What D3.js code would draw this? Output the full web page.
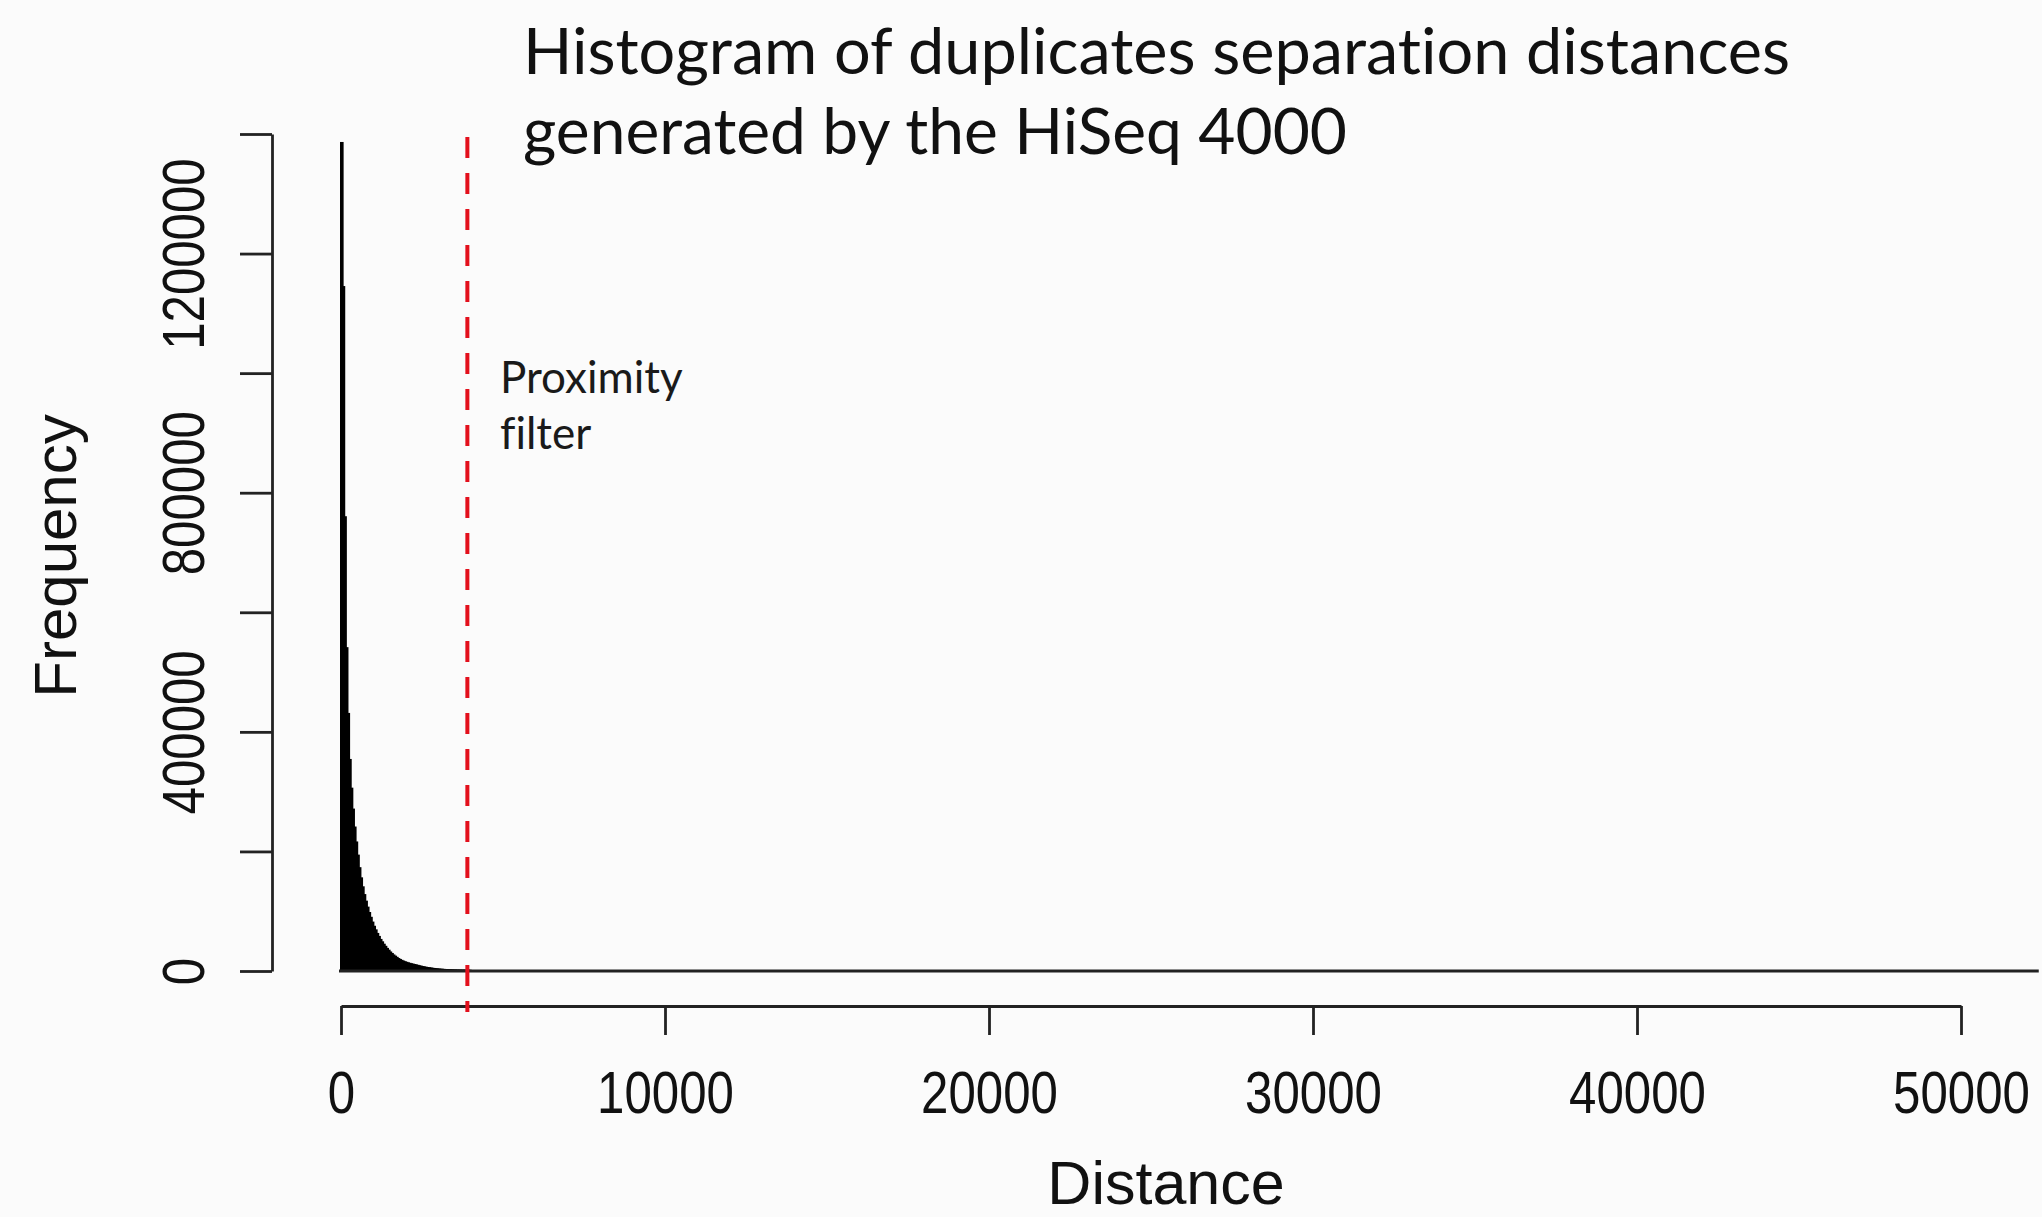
<!DOCTYPE html>
<html>
<head>
<meta charset="utf-8">
<script src="https://cdnjs.cloudflare.com/ajax/libs/d3/7.8.5/d3.min.js"></script>
<style>
  html, body { margin: 0; padding: 0; background: #fbfbfb; }
  svg { display: block; }
  text { font-variant-ligatures: none; }
</style>
</head>
<body>
<svg id="chart"></svg>
<script>
// histogram counts, bins of 50 starting at 0
var binWidth = 50;
var counts = [1385000, 1144000, 759000, 540000, 430000, 353000, 305000, 270000, 240000, 215000,
              193000, 172000, 155000, 140000, 127000, 116000, 106000, 97000, 89000, 81000,
              74000, 68000, 62000, 57000, 52000, 48000, 44000, 40500, 37000, 34000,
              31000, 28500, 26000, 24000, 22000, 20000, 18500, 17000, 15800, 14700,
              13700, 12800, 12000, 11300, 10600, 10000, 9300, 8600, 7900, 7200,
              6600, 6000, 5500, 5000, 4600, 4200, 3800, 3400, 3100, 2800,
              2500, 2300, 2100, 1900, 1700, 1550, 1400, 1300, 1200, 1100,
              1000, 900, 850, 800, 750, 700, 650, 600, 550, 500];
var maxDistance = 52400;   // last break of the histogram
var filterDistance = 3900; // proximity filter cut-off

var xTicks = [0, 10000, 20000, 30000, 40000, 50000];
var yTicks = [0, 200000, 400000, 600000, 800000, 1000000, 1200000, 1400000];
var yLabelTicks = [0, 400000, 800000, 1200000];

var titleLines = ["Histogram of duplicates separation distances", "generated by the HiSeq 4000"];
var noteLines = ["Proximity", "filter"];

var width = 2042, height = 1217;
var svg = d3.select("#chart").attr("width", width).attr("height", height);

var x = d3.scaleLinear().domain([0, 50000]).range([341, 1961]);
var y = d3.scaleLinear().domain([0, 1400000]).range([971, 134]);

var bins = counts.map(function(c, i) { return {x0: i * binWidth, x1: (i + 1) * binWidth, count: c}; });

// the tick digits are narrow: squeeze regular glyphs horizontally
var squeeze = 0.82;
var tickFont = "'Liberation Sans Narrow', 'Arial Narrow', 'Liberation Sans', sans-serif";

// bars
svg.append("g")
  .selectAll("rect")
  .data(bins)
  .enter().append("rect")
    .attr("x", function(d) { return x(d.x0); })
    .attr("width", function(d) { return x(d.x1) - x(d.x0); })
    .attr("y", function(d) { return y(d.count); })
    .attr("height", function(d) { return y(0) - y(d.count); })
    .attr("fill", "#000")
    .attr("stroke", "#000")
    .attr("stroke-width", 2);

// bottom edge of the (empty) bins out to the last break
svg.append("line")
    .attr("x1", x(0) - 2).attr("x2", x(maxDistance))
    .attr("y1", y(0)).attr("y2", y(0))
    .attr("stroke", "#222")
    .attr("stroke-width", 2.8);

// x axis
var xAxis = svg.append("g")
    .attr("transform", "translate(0,1006)")
    .call(d3.axisBottom(x).tickValues(xTicks).tickSize(29).tickSizeOuter(0).tickFormat(d3.format("d")));
xAxis.select(".domain").attr("stroke", "#222").attr("stroke-width", 2.8);
xAxis.selectAll(".tick line").attr("stroke", "#222").attr("stroke-width", 2.8);
xAxis.selectAll(".tick text")
    .attr("y", 0)
    .attr("dy", 0)
    .attr("transform", "translate(0,107) scale(" + squeeze + ",1)")
    .attr("fill", "#111")
    .style("font-family", tickFont)
    .style("font-size", "60px");

// y axis
var yAxis = svg.append("g")
    .attr("transform", "translate(272,0)")
    .call(d3.axisLeft(y).tickValues(yTicks).tickSize(32).tickSizeOuter(0)
      .tickFormat(function(d) { return yLabelTicks.indexOf(d) >= 0 ? d3.format("d")(d) : ""; }));
yAxis.select(".domain").attr("stroke", "#222").attr("stroke-width", 2.8);
yAxis.selectAll(".tick line").attr("stroke", "#222").attr("stroke-width", 2.8);
yAxis.selectAll(".tick text")
    .attr("x", 0).attr("y", 0).attr("dy", 0)
    .attr("transform", "translate(-68,0) rotate(-90) scale(" + squeeze + ",1)")
    .attr("text-anchor", "middle")
    .attr("fill", "#111")
    .style("font-family", tickFont)
    .style("font-size", "60px");

// proximity filter line
svg.append("line")
    .attr("x1", x(filterDistance)).attr("x2", x(filterDistance))
    .attr("y1", 137).attr("y2", 1012)
    .attr("stroke", "#e3101c")
    .attr("stroke-width", 4)
    .attr("stroke-dasharray", "21,15");

svg.append("g")
  .selectAll("text")
  .data(noteLines)
  .enter().append("text")
    .attr("x", 500)
    .attr("y", function(d, i) { return 393 + i * 56; })
    .text(function(d) { return d; })
    .attr("fill", "#1a1a1a")
    .style("font-family", "Lato, 'Open Sans', sans-serif")
    .style("font-size", "44px");

// axis titles
svg.append("text")
    .attr("x", 1166).attr("y", 1204)
    .attr("text-anchor", "middle")
    .text("Distance")
    .attr("fill", "#111")
    .style("font-family", "'Liberation Sans', Arial, sans-serif")
    .style("font-size", "61px");

svg.append("text")
    .attr("transform", "translate(76,556) rotate(-90)")
    .attr("text-anchor", "middle")
    .text("Frequency")
    .attr("fill", "#111")
    .style("font-family", "'Liberation Sans', Arial, sans-serif")
    .style("font-size", "60px");

// title
var titleWidths = [1267, 824];
svg.append("g")
  .selectAll("text")
  .data(titleLines)
  .enter().append("text")
    .attr("x", 523)
    .attr("y", function(d, i) { return 74 + i * 80; })
    .text(function(d) { return d; })
    .attr("textLength", function(d, i) { return titleWidths[i]; })
    .attr("lengthAdjust", "spacingAndGlyphs")
    .attr("fill", "#111")
    .style("font-family", "Lato, 'Open Sans', sans-serif")
    .style("font-size", "63px");
</script>
</body>
</html>
